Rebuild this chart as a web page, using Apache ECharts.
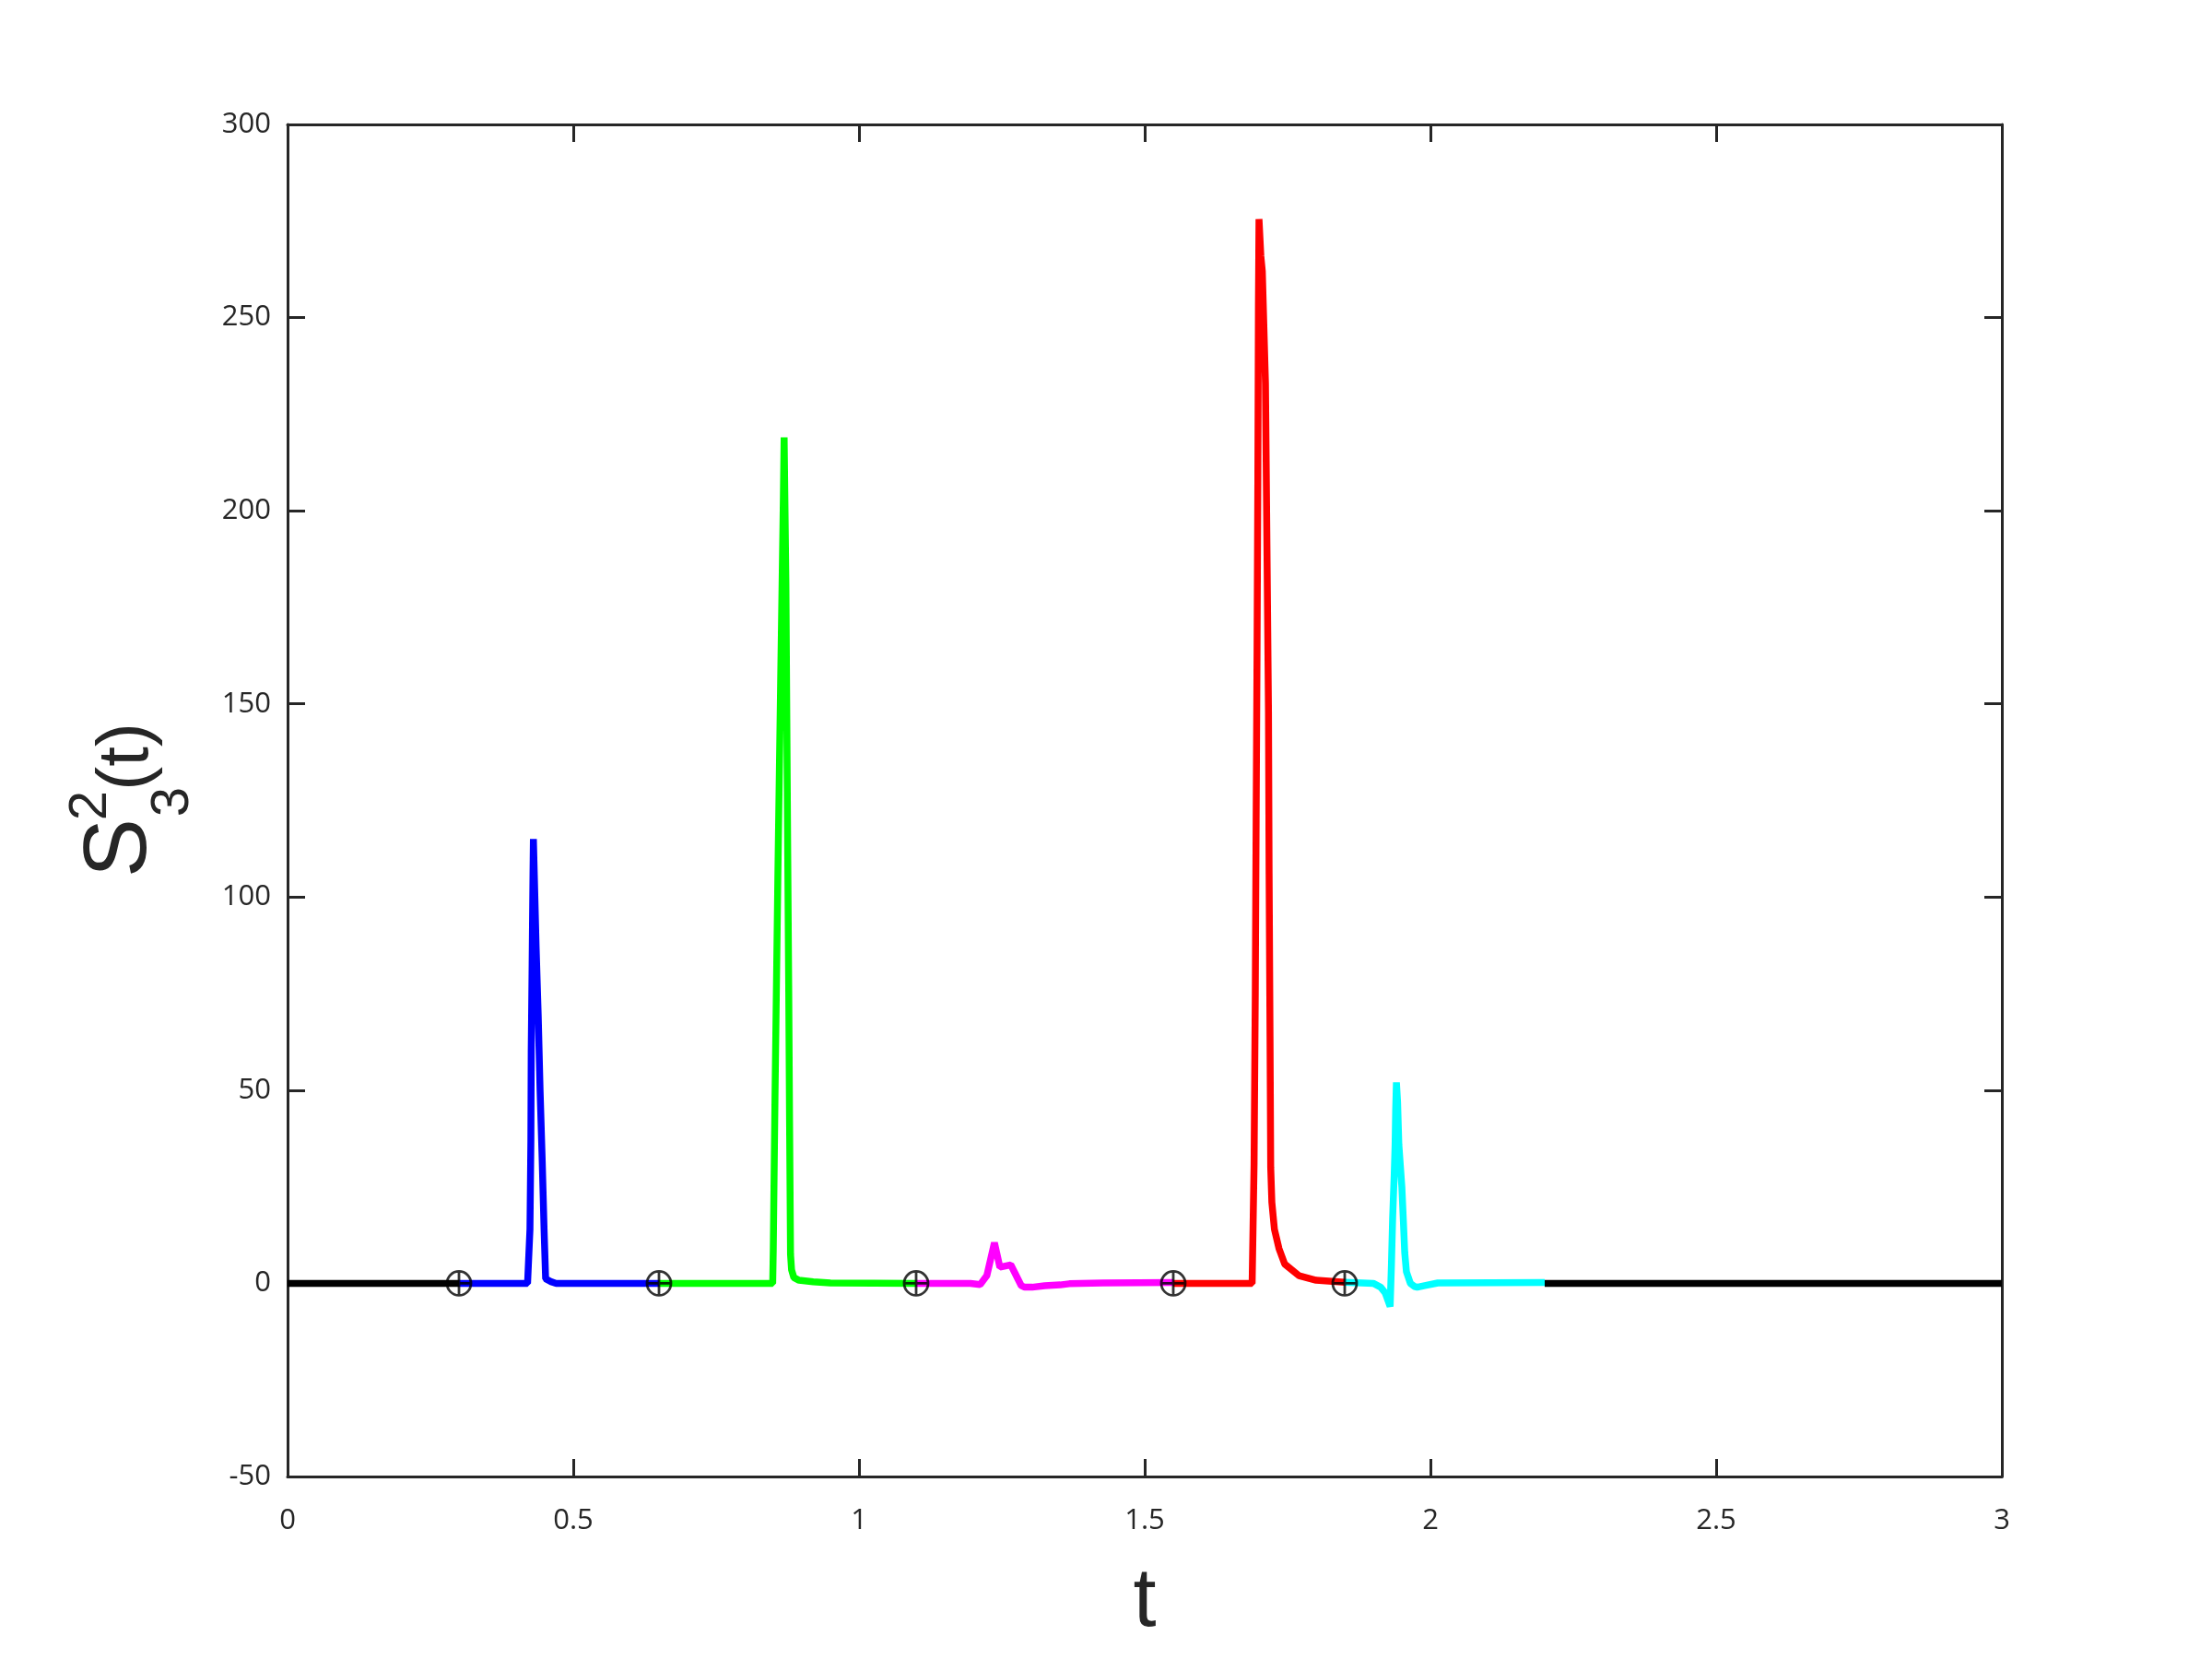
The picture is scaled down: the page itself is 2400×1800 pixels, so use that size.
<!DOCTYPE html>
<html><head><meta charset="utf-8">
<script src="https://cdn.jsdelivr.net/npm/echarts@6/dist/echarts.min.js"></script>
<style>html,body{margin:0;padding:0;background:#fff}#c{width:2400px;height:1800px}</style>
</head><body><div id="c"></div>
<script>
// ---- data ----
const blackT1 = [0, 0.3];
const blackV1 = [0, 0];
const blueT = [0.30, 0.42, 0.4242, 0.4258, 0.4264, 0.4280, 0.4295, 0.4302, 0.4350, 0.4387, 0.4419, 0.4456, 0.4489, 0.4516, 0.46, 0.47, 0.65];
const blueV = [0, 0, 14, 37, 60, 83, 106, 115, 87, 69, 50, 32, 14, 1.2, 0.5, 0, 0];
const greenT = [0.65, 0.849, 0.850, 0.853, 0.858, 0.8629, 0.8677, 0.869, 0.8721, 0.8737, 0.8753, 0.877, 0.8785, 0.8802, 0.882, 0.886, 0.895, 0.92, 0.95, 1.1];
const greenV = [0, 0, 9, 48, 105, 156, 204, 219, 181, 146, 111, 77, 42, 7.5, 3.5, 1.5, 0.8, 0.4, 0.1, 0];
const magentaT = [1.10, 1.195, 1.212, 1.2237, 1.237, 1.2466, 1.2656, 1.284, 1.290, 1.303, 1.325, 1.352, 1.368, 1.427, 1.55];
const magentaV = [0, 0, -0.3, 2, 10.5, 4.2, 4.8, -0.6, -1.0, -1.0, -0.6, -0.4, -0.1, 0.1, 0.2];
const redT = [1.55, 1.688, 1.690, 1.6914, 1.6935, 1.695, 1.6966, 1.698, 1.699, 1.700, 1.7032, 1.7058, 1.7113, 1.7139, 1.7166, 1.7177, 1.7193, 1.7205, 1.7225, 1.727, 1.735, 1.745, 1.77, 1.80, 1.85];
const redV = [0, 0, 0, 31, 75, 120, 164, 209, 253, 275.5, 266, 262, 233, 191, 148, 106, 64, 30, 21, 14, 9, 5, 2, 0.8, 0.3];
const cyanT = [1.85, 1.90, 1.913, 1.921, 1.9295, 1.9318, 1.9339, 1.9366, 1.9382, 1.9392, 1.9405, 1.9425, 1.9447, 1.950, 1.9527, 1.955, 1.958, 1.965, 1.972, 1.977, 1.99, 2.013, 2.2];
const cyanV = [0.3, 0, -1, -2.5, -6, 5, 17, 28, 36, 45, 52, 47, 36, 25, 16, 8, 3, 0, -0.8, -1, -0.6, 0.1, 0.2];
const blackT2 = [2.2, 3.0];
const blackV2 = [0, 0];
const markerT = [0.3, 0.65, 1.1, 1.55, 1.85];
const markerV = [0, 0, 0, 0, 0];
const xTickLabels = ['0', '0.5', '1', '1.5', '2', '2.5', '3'];
const yTickLabels = ['-50', '0', '50', '100', '150', '200', '250', '300'];

const zip = (t, v) => t.map((x, i) => [x, v[i]]);
const segments = [
  ['#000000', blackT1, blackV1],
  ['#0000ff', blueT, blueV],
  ['#00ff00', greenT, greenV],
  ['#ff00ff', magentaT, magentaV],
  ['#ff0000', redT, redV],
  ['#00ffff', cyanT, cyanV],
  ['#000000', blackT2, blackV2]
];

const axisColor = '#262626';
const labelFont = 'Open Sans';
const nameFont = 'Liberation Sans';

const series = segments.map(([c, t, v], i) => ({
  type: 'line',
  data: zip(t, v),
  showSymbol: false,
  symbol: 'none',
  lineStyle: { color: c, width: 7.5, join: 'bevel', cap: 'butt' },
  z: 2 + i * 0.01,
  animation: false,
  silent: true
}));
series.push({
  type: 'scatter',
  data: zip(markerT, markerV),
  symbol: 'path://M13,0 A13,13 0 1,1 -13,0 A13,13 0 1,1 13,0 Z M-13,0 L13,0 M0,-13 L0,13',
  symbolSize: 26,
  itemStyle: { color: 'rgba(0,0,0,0)', borderColor: '#000000', borderWidth: 2.8 },
  z: 5,
  animation: false,
  silent: true
});

const chart = echarts.init(document.getElementById('c'), null, { renderer: 'canvas' });
const tickStyle = { show: true, inside: true, length: 19, lineStyle: { color: axisColor, width: 3 } };
chart.setOption({
  backgroundColor: '#ffffff',
  animation: false,
  grid: { left: 312, top: 135, right: 228, bottom: 198, containLabel: false },
  xAxis: [{
    type: 'value', min: 0, max: 3, interval: 0.5, position: 'bottom',
    axisLine: { show: true, onZero: false, lineStyle: { color: axisColor, width: 3 } },
    axisTick: tickStyle,
    splitLine: { show: false },
    axisLabel: { margin: 33, fontSize: 31, fontFamily: labelFont, color: axisColor,
      formatter: (v) => xTickLabels[Math.round(v / 0.5)] },
    name: 't', nameLocation: 'middle', nameGap: 92,
    nameTextStyle: { fontSize: 90, fontFamily: nameFont, color: axisColor }
  }, {
    type: 'value', min: 0, max: 3, interval: 0.5, position: 'top',
    axisLine: { show: true, onZero: false, lineStyle: { color: axisColor, width: 3 } },
    axisTick: tickStyle, axisLabel: { show: false }, splitLine: { show: false }
  }],
  yAxis: [{
    type: 'value', min: -50, max: 300, interval: 50, position: 'left',
    axisLine: { show: true, onZero: false, lineStyle: { color: axisColor, width: 3 } },
    axisTick: tickStyle,
    splitLine: { show: false },
    axisLabel: { margin: 18, fontSize: 31, fontFamily: labelFont, color: axisColor,
      padding: [4, 0, 0, 0],
      formatter: (v) => yTickLabels[Math.round((v + 50) / 50)] }
  }, {
    type: 'value', min: -50, max: 300, interval: 50, position: 'right',
    axisLine: { show: true, onZero: false, lineStyle: { color: axisColor, width: 3 } },
    axisTick: tickStyle, axisLabel: { show: false }, splitLine: { show: false }
  }],
  series: series,
  graphic: [{
    type: 'group', x: 132, y: 870, rotation: Math.PI / 2, silent: true,
    children: [
      { type: 'text', x: -50, y: 0, style: { text: 'S', fontSize: 96, fontFamily: nameFont, fill: axisColor, align: 'center', verticalAlign: 'middle' } },
      { type: 'text', x: -4, y: -33, style: { text: '2', fontSize: 58, fontFamily: nameFont, fill: axisColor, align: 'center', verticalAlign: 'middle' } },
      { type: 'text', x: 0, y: 56, style: { text: '3', fontSize: 58, fontFamily: nameFont, fill: axisColor, align: 'center', verticalAlign: 'middle' } },
      { type: 'text', x: 49, y: 6, style: { text: '(t)', fontSize: 78, fontFamily: nameFont, fill: axisColor, align: 'center', verticalAlign: 'middle' } }
    ]
  }]
});
</script>
</body></html>
